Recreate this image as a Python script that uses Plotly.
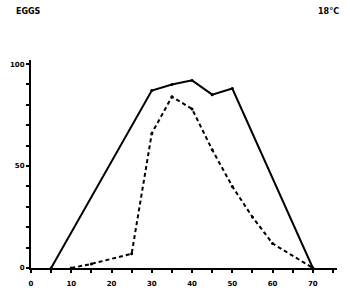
import plotly.graph_objects as go

# Data
solid_x = [5, 30, 35, 40, 45, 50, 70]
solid_y = [0, 87, 90, 92, 85, 88, 0]
dashed_x = [10, 15, 25, 30, 35, 40, 45, 50, 55, 60, 70]
dashed_y = [0, 2, 7, 66, 84, 78, 58, 40, 25, 12, 0]
x_tick_vals = [0, 10, 20, 30, 40, 50, 60, 70]
y_tick_vals = [0, 50, 100]
y_tick_text = ["0", "50", "100"]

fig = go.Figure()
fig.add_trace(go.Scatter(x=solid_x, y=solid_y, mode="lines+markers",
                         line=dict(color="black", width=2),
                         marker=dict(size=3, color="black"), showlegend=False))
fig.add_trace(go.Scatter(x=dashed_x, y=dashed_y, mode="lines+markers",
                         line=dict(color="black", width=2, dash="4px,3px"),
                         marker=dict(size=3, color="black"), showlegend=False))

font_tick = dict(family="DejaVu Sans", size=7, color="black", weight="bold")
W, H = 350, 298
pl, pr, pt, pb = 31, 13, 60, 30
fig.update_layout(
    width=W, height=H,
    margin=dict(l=pl, r=pr, t=pt, b=pb),
    paper_bgcolor="white", plot_bgcolor="white",
    xaxis=dict(range=[0, 76], tickvals=x_tick_vals, ticks="outside", ticklen=3,
               tickwidth=2, tickcolor="black", showgrid=False, zeroline=False,
               showline=True, linecolor="black", linewidth=2, tickfont=font_tick,
               ticklabelstandoff=5, automargin=False,
               minor=dict(dtick=5, tick0=0, ticks="outside", ticklen=3, tickwidth=2, tickcolor="black")),
    yaxis=dict(range=[0, 102], tickvals=y_tick_vals, ticktext=y_tick_text, ticks="outside",
               ticklen=3, tickwidth=2, tickcolor="black", showgrid=False, zeroline=False,
               showline=True, linecolor="black", linewidth=2, tickfont=font_tick,
               automargin=False,
               minor=dict(dtick=10, tick0=0, ticks="outside", ticklen=3, tickwidth=2, tickcolor="black")),
)

pw, ph = W - pl - pr, H - pt - pb
def px_to_paper(px, py):
    return (px - pl) / pw, (H - pb - py) / ph
ex, ey = px_to_paper(14, 12)
tx, ty = px_to_paper(341, 12)
fig.update_layout(annotations=[
    dict(text="EGGS", x=ex, y=ey, xref="paper", yref="paper", showarrow=False,
         font=dict(family="DejaVu Sans", size=8, color="black", weight="bold"),
         xanchor="left", yanchor="middle"),
    dict(text="18°C", x=tx, y=ty, xref="paper", yref="paper", showarrow=False,
         font=dict(family="DejaVu Sans", size=8, color="black", weight="bold"),
         xanchor="right", yanchor="middle"),
])

fig.write_html("out.html")
